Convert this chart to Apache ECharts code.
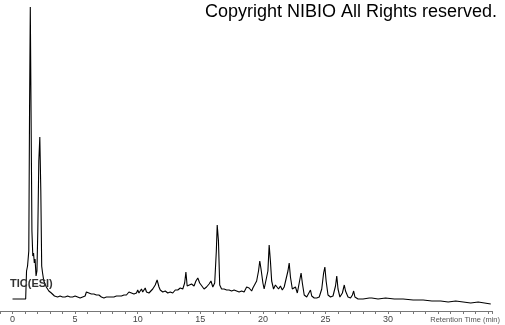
<!DOCTYPE html>
<html>
<head>
<meta charset="utf-8">
<script src="https://cdn.jsdelivr.net/npm/echarts@6/dist/echarts.min.js"></script>
<style>html,body{margin:0;padding:0;background:#fff}#c{width:505px;height:325px}</style>
</head>
<body>
<div id="c"></div>
<script>
var times = [
0,1.05,1.08,1.12,1.2,1.3,1.36,1.42,1.48,1.55,1.62,1.68,1.74,1.8,1.88,1.95,2.02,2.1,2.18,2.26,2.33,2.4,2.5,2.6,2.7,2.8,2.9,3.0,3.1,3.2,3.35,
3.5,3.6,3.7,3.8,3.9,4.0,4.1,4.2,4.3,4.4,4.5,4.6,4.7,4.8,4.9,5.0,5.1,5.2,5.3,5.4,5.5,5.6,5.7,5.8,5.9,5.95,
6.0,6.1,6.2,6.3,6.4,6.5,6.6,6.7,6.8,6.9,7.0,7.1,7.2,7.3,7.4,7.5,7.6,7.7,7.8,7.9,8.0,8.1,8.2,8.3,8.4,8.5,8.6,8.7,8.8,8.9,
9.0,9.1,9.2,9.3,9.4,9.5,9.6,9.7,9.8,9.9,10.0,10.1,10.2,10.3,10.4,10.5,10.6,10.7,10.8,10.9,11.0,
11.2,11.4,11.55,
11.7,11.8,11.9,12.0,12.1,12.2,12.3,12.4,12.5,12.6,12.7,12.8,12.9,13.0,13.1,13.2,13.3,13.4,13.5,13.6,
13.75,13.85,13.95,14.1,14.3,14.5,14.65,14.8,14.95,15.1,15.3,15.5,15.7,15.85,16.0,16.15,16.28,16.35,16.45,16.55,
16.7,16.8,16.9,17.0,17.1,17.2,17.3,17.4,17.5,17.6,17.7,17.8,17.9,18.0,18.1,18.2,18.3,18.4,18.5,18.6,18.7,18.8,18.9,19.0,19.1,19.2,19.3,
19.5,19.65,19.75,19.85,20.0,20.1,20.25,20.4,20.5,20.6,20.7,20.85,21.0,21.1,21.25,21.4,21.55,21.7,21.85,22.0,22.1,22.2,22.35,22.5,22.6,22.75,22.9,23.05,23.15,23.3,23.5,23.65,23.8,23.9,24.1,24.3,24.5,24.7,24.85,24.95,25.05,25.2,25.4,25.6,25.8,25.9,26.0,26.15,26.35,26.5,26.6,26.8,27.0,27.15,27.25,27.35,27.6,28.0,28.5,28.6,28.7,29.2,29.8,30.5,31.2,32.0,32.8,33.5,34.2,34.8,35.4,36.0,36.6,37.2,37.7,38.2
];
var intensity = [
12,12,12,40,45,60,200,304,200,80,55,58,48,52,35,40,80,150,174,120,45,38,30,32,24,26,20,22,18,19,15,
16,14,13,15,13,14,12,14,13,15,13,14,12,14,13,15,13,14,15,13,15,14,16,15,19,21,
17,18,16,17,15,17,15,16,14,16,15,14,15,13,15,14,15,14,16,14,15,14,16,15,16,15,17,15,17,16,
18,16,17,19,17,18,20,17,19,18,21,18,20,22,19,21,23,19,21,18,20,
22,26,31,
24,21,23,19,21,20,22,18,20,19,21,18,20,21,19,21,20,23,21,22,
28,39,25,24,27,25,30,33,28,26,22,24,27,30,24,28,60,86,70,26,
22,24,22,24,21,23,21,23,20,22,21,23,20,21,19,21,20,22,19,21,24,22,23,21,20,23,24,
30,40,50,42,28,22,20,40,66,50,30,22,26,28,22,25,21,24,22,40,48,34,22,20,24,18,28,38,28,16,14,15,21,15,13,13,14,22,38,44,30,16,14,15,25,35,22,14,18,26,20,14,13,16,20,14,12,12,13,15,13,12,13,12,12,11,11,10,10,9,10,9,8,9,8,7
];
var majorLabels = [0,5,10,15,20,25,30];
var titleText = 'Copyright NIBIO All Rights reserved.';
var traceLabel = 'TIC(ESI)';
var axisTitle = 'Retention Time (min)';

var data = times.map(function(t,i){return [t,intensity[i]];});
var chart = echarts.init(document.getElementById('c'));
chart.setOption({
  animation:false,
  backgroundColor:'#fff',
  grid:{left:0,right:13,top:7,bottom:14,containLabel:false,outerBoundsMode:'none'},
  xAxis:{type:'value',min:-1,max:38.3,interval:1,
    axisLine:{show:true,lineStyle:{color:'#777',width:1}},
    axisTick:{show:true,length:3,lineStyle:{color:'#777'}},
    splitLine:{show:false},
    axisLabel:{color:'#444',fontSize:9,fontFamily:'Liberation Sans, Arial',margin:4,hideOverlap:false,
      formatter:function(v){return majorLabels.indexOf(v)>=0?String(v):'';}}
  },
  yAxis:{type:'value',min:0,max:304,show:false},
  series:[{type:'line',data:data,showSymbol:false,lineStyle:{color:'#000',width:1.1},silent:true}],
  graphic:[
    {type:'text',right:8,top:3,style:{text:titleText,fontSize:18,fontFamily:'Liberation Sans, Arial',fill:'#000'}},
    {type:'text',left:10,top:278,z:100,style:{text:traceLabel,fontSize:11,fontWeight:'bold',fontFamily:'Liberation Sans, Arial',fill:'#333'}},
    {type:'text',right:5,top:316,style:{text:axisTitle,fontSize:7.5,fontFamily:'Liberation Sans, Arial',fill:'#555'}}
  ]
});
</script>
</body>
</html>
